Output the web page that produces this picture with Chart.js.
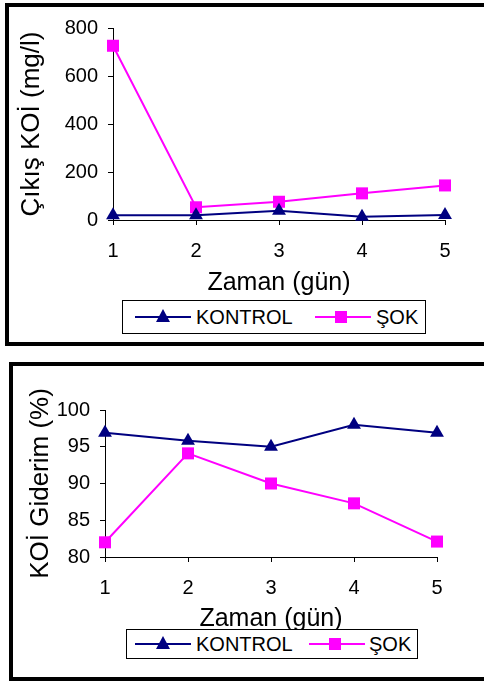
<!DOCTYPE html>
<html>
<head>
<meta charset="utf-8">
<script src="https://cdn.jsdelivr.net/npm/chart.js@4/dist/chart.umd.min.js"></script>
<style>
    body { margin: 0; width: 484px; height: 682px; overflow: hidden; background: #fff; position: relative; font-family: Arial, "Liberation Sans", sans-serif; }
    .frame { position: absolute; border: 4px solid #000; box-sizing: border-box; }
    .wrap { position: absolute; }
    .legend { position: absolute; border: 1px solid #000; background: #fff; box-sizing: border-box; z-index: 2; }
    .legend .ln { position: absolute; height: 2px; }
    .legend .txt { position: absolute; font-size: 20px; line-height: 20px; color: #000; white-space: nowrap; }
    .tri { position: absolute; width: 0; height: 0; border-left: 7px solid transparent; border-right: 7px solid transparent; border-bottom: 13px solid #000080; }
    .sq { position: absolute; width: 12px; height: 12px; background: #ff00ff; }
</style>
</head>
<body>

<div class="frame" style="left:5px; top:3px; width:520px; height:343px;"></div>
<div class="frame" style="left:9px; top:362px; width:520px; height:319px;"></div>

<div class="wrap" style="left:0; top:0; width:484px; height:300px;"><canvas id="koiChart"></canvas></div>
<div class="wrap" style="left:0; top:360px; width:484px; height:276px;"><canvas id="giderimChart"></canvas></div>

<!-- legend 1 -->
<div class="legend" style="left:122px; top:300px; width:304px; height:34px;">
    <div class="ln" style="left:12px; top:15px; width:56px; background:#000080;"></div>
    <div class="tri" style="left:33px; top:8px;"></div>
    <div class="txt" style="left:73px; top:6px;">KONTROL</div>
    <div class="ln" style="left:192px; top:15px; width:56px; background:#ff00ff;"></div>
    <div class="sq" style="left:212px; top:10px;"></div>
    <div class="txt" style="left:253px; top:6px;">ŞOK</div>
</div>

<!-- legend 2 -->
<div class="legend" style="left:126px; top:629px; width:292px; height:30px;">
    <div class="ln" style="left:8px; top:13px; width:56px; background:#000080;"></div>
    <div class="tri" style="left:29px; top:6px;"></div>
    <div class="txt" style="left:69px; top:4px;">KONTROL</div>
    <div class="ln" style="left:182px; top:13px; width:56px; background:#ff00ff;"></div>
    <div class="sq" style="left:202px; top:8px;"></div>
    <div class="txt" style="left:242px; top:4px;">ŞOK</div>
</div>

<script>
// DATA
const days = ["1", "2", "3", "4", "5"];
const kontrolKoi = [20, 20, 39, 14, 21];
const sokKoi = [726, 53, 76, 111, 144];
const kontrolGiderim = [96.9, 95.8, 95.0, 98.0, 96.9];
const sokGiderim = [82.0, 94.1, 90.0, 87.3, 82.1];
const koiTicks = [0, 200, 400, 600, 800];
const giderimTicks = [80, 85, 90, 95, 100];

const NAVY = "#000080";
const MAGENTA = "#ff00ff";
const FONT = "Arial, 'Liberation Sans', sans-serif";

Chart.defaults.color = "#000";
Chart.defaults.font.family = FONT;

function series(label, data, color, style, radius) {
    return {
        label: label,
        data: data,
        borderColor: color,
        backgroundColor: color,
        borderWidth: 2,
        pointStyle: style,
        pointRadius: radius,
        pointBorderWidth: 0,
        tension: 0,
        clip: false
    };
}

function makeChart(id, kontrol, sok, ticks, opt) {
    const ctx = document.getElementById(id).getContext("2d");
    return new Chart(ctx, {
        type: "line",
        data: {
            labels: days,
            datasets: [
                series("KONTROL", kontrol, NAVY, "triangle", 8),
                series("ŞOK", sok, MAGENTA, "rect", 8.5)
            ]
        },
        options: {
            responsive: true,
            maintainAspectRatio: false,
            animation: false,
            layout: { padding: { top: opt.top, right: opt.right, left: 0, bottom: 0 } },
            plugins: { legend: { display: false }, tooltip: { enabled: false } },
            scales: {
                x: {
                    offset: false,
                    grid: { drawOnChartArea: false, drawTicks: true, tickLength: 5, color: "#000" },
                    border: { display: true, color: "#000", width: 1 },
                    ticks: { font: { size: 20 }, padding: 14, maxRotation: 0 },
                    title: { display: true, text: "Zaman (gün)", font: { size: 25 }, padding: { top: 0, bottom: opt.xTitlePad } },
                    afterFit: (s) => { s.height = opt.xHeight; }
                },
                y: {
                    min: ticks[0],
                    max: ticks[ticks.length - 1],
                    grid: { drawOnChartArea: false, drawTicks: true, tickLength: 5, color: "#000" },
                    border: { display: true, color: "#000", width: 1 },
                    ticks: { stepSize: ticks[1] - ticks[0], font: { size: 20 }, padding: 10 },
                    title: { display: true, text: opt.yTitle, font: { size: 26 }, padding: { top: opt.yTitlePad, bottom: 0 } },
                    afterFit: (s) => { s.width = opt.yWidth; }
                }
            }
        }
    });
}

// CIKIS KOI CHART
makeChart("koiChart", kontrolKoi, sokKoi, koiTicks, {
    top: 28, right: 39, xHeight: 80, xTitlePad: 2, yWidth: 113, yTitlePad: 16, yTitle: "Çıkış KOİ (mg/l)"
});

// KOI GIDERIM CHART
makeChart("giderimChart", kontrolGiderim, sokGiderim, giderimTicks, {
    top: 50, right: 47, xHeight: 79, xTitlePad: 2, yWidth: 105, yTitlePad: 25, yTitle: "KOİ Giderim (%)"
});
</script>
</body>
</html>
